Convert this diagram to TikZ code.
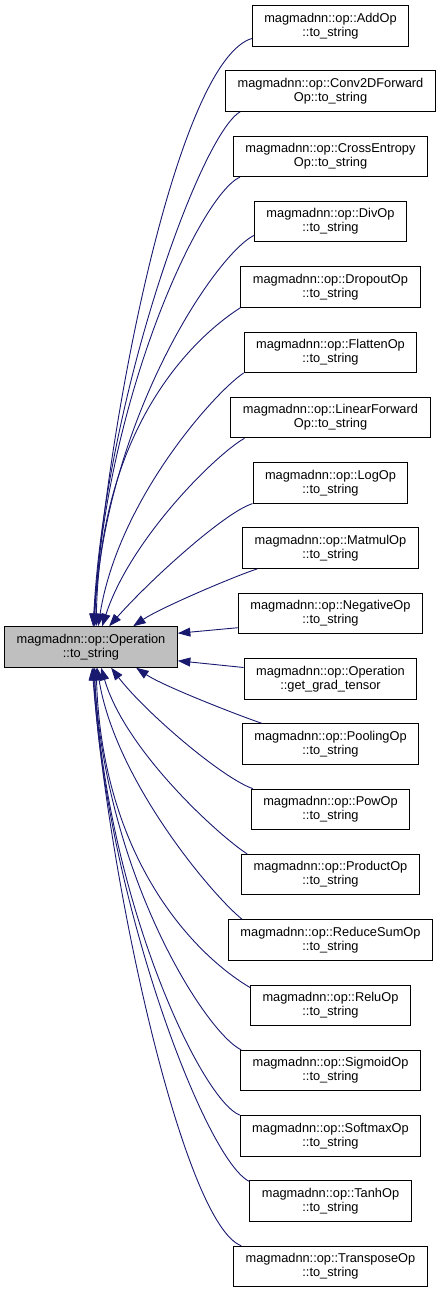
\documentclass[tikz,border=0pt]{standalone}
\usepackage{fontspec}
\setmainfont{Liberation Sans}
\usetikzlibrary{arrows.meta}
\definecolor{edgeblue}{HTML}{191970}
\definecolor{opgray}{HTML}{BFBFBF}
\begin{document}
\begin{tikzpicture}[x=1pt,y=-1pt,
  box/.style={draw=black, line width=1pt, fill=white, align=center, inner xsep=12pt, inner ysep=0pt, minimum height=40.5pt, font=\fontsize{12.8}{14}\selectfont},
  opbox/.style={box, fill=opgray},
  edge/.style={draw=edgeblue, line width=0.9pt, -{Triangle[length=12.5pt,width=9pt]}}]
\useasboundingbox (0,0) rectangle (441,1293);
\node[opbox] (op) at (91,647) {magmadnn::op::Operation\\::to\_string};
\node[box] (n0) at (330.5,25.75) {magmadnn::op::AddOp\\::to\_string};
\node[box] (n1) at (330.5,91.05) {magmadnn::op::Conv2DForward\\Op::to\_string};
\node[box] (n2) at (330.5,156.35) {magmadnn::op::CrossEntropy\\Op::to\_string};
\node[box] (n3) at (330.5,221.65) {magmadnn::op::DivOp\\::to\_string};
\node[box] (n4) at (330.5,286.95) {magmadnn::op::DropoutOp\\::to\_string};
\node[box] (n5) at (330.5,352.25) {magmadnn::op::FlattenOp\\::to\_string};
\node[box] (n6) at (330.5,417.55) {magmadnn::op::LinearForward\\Op::to\_string};
\node[box] (n7) at (330.5,482.85) {magmadnn::op::LogOp\\::to\_string};
\node[box] (n8) at (330.5,548.15) {magmadnn::op::MatmulOp\\::to\_string};
\node[box] (n9) at (330.5,613.45) {magmadnn::op::NegativeOp\\::to\_string};
\node[box] (n10) at (330.5,678.75) {magmadnn::op::Operation\\::get\_grad\_tensor};
\node[box] (n11) at (330.5,744.05) {magmadnn::op::PoolingOp\\::to\_string};
\node[box] (n12) at (330.5,809.35) {magmadnn::op::PowOp\\::to\_string};
\node[box] (n13) at (330.5,874.65) {magmadnn::op::ProductOp\\::to\_string};
\node[box] (n14) at (330.5,939.95) {magmadnn::op::ReduceSumOp\\::to\_string};
\node[box] (n15) at (330.5,1005.25) {magmadnn::op::ReluOp\\::to\_string};
\node[box] (n16) at (330.5,1070.55) {magmadnn::op::SigmoidOp\\::to\_string};
\node[box] (n17) at (330.5,1135.85) {magmadnn::op::SoftmaxOp\\::to\_string};
\node[box] (n18) at (330.5,1201.15) {magmadnn::op::TanhOp\\::to\_string};
\node[box] (n19) at (330.5,1266.45) {magmadnn::op::TransposeOp\\::to\_string};
% top group
\draw[edge] ([yshift=8pt]n0.south west) .. controls (180,60) and (110,400) .. ([xshift=89pt]op.north west);
\draw[edge] ([xshift=15pt]n1.south west) .. controls (200,135) and (105,400) .. ([xshift=89pt]op.north west);
\draw[edge] ([xshift=7pt]n2.south west) .. controls (200,195) and (105,400) .. ([xshift=90pt]op.north west);
\draw[edge] ([yshift=7pt]n3.south west) .. controls (215,255) and (105,420) .. ([xshift=90pt]op.north west);
\draw[edge] (n4.south west) .. controls (190,340) and (100,430) .. ([xshift=92pt]op.north west);
\draw[edge] (n5.south west) .. controls (215,392) and (118,500) .. ([xshift=94pt]op.north west);
\draw[edge] ([xshift=14pt]n6.south west) .. controls (215,455) and (130,540) .. ([xshift=98pt]op.north west);
\draw[edge] (n7.south west) .. controls (225,512) and (150,580) .. ([xshift=105pt]op.north west);
\draw[edge] ([xshift=15pt]n8.south west) .. controls (235,576) and (160,608) .. ([xshift=129pt]op.north west);
% middle
\draw[edge] ([yshift=6.5pt]n9.south west) -- ([yshift=-7pt]op.north east);
\draw[edge] ([yshift=-9.5pt]n10.north west) -- ([yshift=7pt]op.south east);
% bottom group
\draw[edge] ([xshift=20pt]n11.north west) .. controls (240,716) and (163,686) .. ([xshift=132pt]op.south west);
\draw[edge] ([xshift=2pt]n12.north west) .. controls (222,778) and (145,712) .. ([xshift=107pt]op.south west);
\draw[edge] ([xshift=6pt]n13.north west) .. controls (218,835) and (125,750) .. ([xshift=97pt]op.south west);
\draw[edge] ([xshift=14pt]n14.north west) .. controls (212,895) and (115,780) .. ([xshift=93pt]op.south west);
\draw[edge] ([yshift=-3pt]n15.north west) .. controls (195,955) and (102,860) .. ([xshift=92pt]op.south west);
\draw[edge] ([xshift=1pt]n16.north west) .. controls (205,1032) and (105,874) .. ([xshift=90pt]op.south west);
\draw[edge] (n17.north west) .. controls (200,1099) and (105,894) .. ([xshift=90pt]op.south west);
\draw[edge] ([yshift=-1pt]n18.north west) .. controls (205,1160) and (105,894) .. ([xshift=89pt]op.south west);
\draw[edge] ([xshift=8pt]n19.north west) .. controls (185,1225) and (110,894) .. ([xshift=88pt]op.south west);
\end{tikzpicture}
\end{document}
